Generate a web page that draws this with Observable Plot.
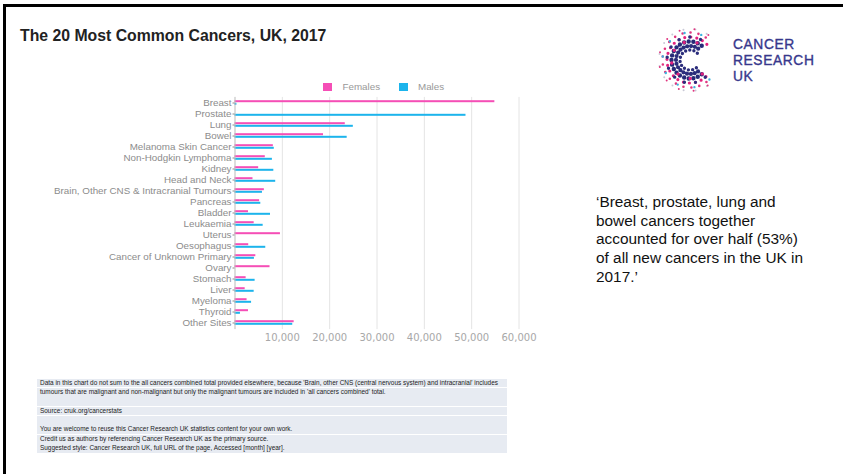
<!DOCTYPE html>
<html>
<head>
<meta charset="utf-8">
<script src="https://cdn.jsdelivr.net/npm/d3@7"></script>
<script src="https://cdn.jsdelivr.net/npm/@observablehq/plot@0.6"></script>
<style>
  html, body { margin: 0; padding: 0; background: #fff; }
  #page { position: relative; width: 843px; height: 474px; overflow: hidden; background: #fff; font-family: "Liberation Sans", Arial, sans-serif; }
  .abs { position: absolute; }
  #title { left: 20px; top: 27px; font-weight: bold; font-size: 15.8px; color: #222; white-space: nowrap; }
  #legend { left: 0; top: 81px; font-size: 9.8px; color: #999; }
  .sw { position: absolute; width: 9px; height: 8px; }
  .lt { position: absolute; white-space: nowrap; line-height: 10px; }
  #quote { left: 596px; top: 193px; width: 245px; font-size: 15.4px; line-height: 18.7px; color: #111; white-space: nowrap; }
  #foot { left: 37px; top: 378.5px; width: 470px; font-size: 6.45px; color: #222; }
  .row { height: 8.8px; line-height: 8.8px; margin-bottom: 0.6px; background: #e7ebf2; padding-left: 3px; white-space: nowrap; overflow: hidden; }
  #logoText { left: 733px; top: 37px; font-family: "Liberation Sans", Arial, sans-serif; font-size: 13.8px; line-height: 16px; color: #37378c; letter-spacing: 0.6px; -webkit-text-stroke: 0.35px #37378c; }
</style>
</head>
<body>
<div id="page">
  <div class="abs" style="left:3px;top:4px;width:840px;height:3px;background:#000"></div>
  <div class="abs" style="left:3px;top:4px;width:3px;height:470px;background:#000"></div>
  <div id="title" class="abs"></div>
  <div id="legend" class="abs"></div>
  <div id="chart" class="abs" style="left:0;top:90px"></div>
  <div id="quote" class="abs"></div>
  <div id="foot" class="abs"></div>
  <svg id="logo" class="abs" style="left:650px;top:25px" width="80" height="75"></svg>
  <div id="logoText" class="abs">CANCER<br>RESEARCH<br>UK</div>
</div>
<script>
const titleText = "The 20 Most Common Cancers, UK, 2017";
const categories = [
  "Breast", "Prostate", "Lung", "Bowel", "Melanoma Skin Cancer",
  "Non-Hodgkin Lymphoma", "Kidney", "Head and Neck",
  "Brain, Other CNS & Intracranial Tumours", "Pancreas", "Bladder",
  "Leukaemia", "Uterus", "Oesophagus", "Cancer of Unknown Primary",
  "Ovary", "Stomach", "Liver", "Myeloma", "Thyroid", "Other Sites"
];
const females = [54900, 0, 23300, 18700, 8100, 6400, 5000, 3800, 6200, 5200, 2850, 4050, 9600, 2900, 4400, 7400, 2350, 2150, 2550, 2850, 12500];
const males   = [400, 48800, 25000, 23700, 8300, 7900, 8200, 8600, 5800, 5450, 7500, 5950, 0, 6500, 4100, 0, 4250, 4050, 3500, 1150, 12200];
const seriesNames = ["Females", "Males"];
const seriesColors = ["#f54eb6", "#1cb4ec"];
const xTicks = [10000, 20000, 30000, 40000, 50000, 60000];
const quoteText = "‘Breast, prostate, lung and<br>bowel cancers together<br>accounted for over half (53%)<br>of all new cancers in the UK in<br>2017.’";
const footLines = [
  "Data in this chart do not sum to the all cancers combined total provided elsewhere, because 'Brain, other CNS (central nervous system) and intracranial' includes",
  "tumours that are malignant and non-malignant but only the malignant tumours are included in 'all cancers combined' total.",
  "",
  "Source: cruk.org/cancerstats",
  "",
  "You are welcome to reuse this Cancer Research UK statistics content for your own work.",
  "Credit us as authors by referencing Cancer Research UK as the primary source.",
  "Suggested style: Cancer Research UK, full URL of the page, Accessed [month] [year]."
];

document.getElementById("title").textContent = titleText;
document.getElementById("quote").innerHTML = quoteText;
document.getElementById("foot").innerHTML = footLines.map(t => `<div class="row">${t || "&nbsp;"}</div>`).join("");

// legend
const legend = document.getElementById("legend");
const legendPos = [[322.5, 342.5], [399, 418]];
seriesNames.forEach((n, i) => {
  legend.insertAdjacentHTML("beforeend",
    `<div class="sw" style="left:${legendPos[i][0]}px;top:1.5px;background:${seriesColors[i]}"></div>` +
    `<div class="lt" style="left:${legendPos[i][1]}px;top:1px">${n}</div>`);
});

const data = categories.flatMap((c, i) => [
  {cancer: c, sex: "Females", value: females[i]},
  {cancer: c, sex: "Males", value: males[i]}
]);

const chart = Plot.plot({
  width: 545,
  height: 260,
  marginLeft: 234.5,
  marginRight: 26.5,
  marginTop: 6.9,
  marginBottom: 20.9,
  style: {fontFamily: "'Liberation Sans', Arial, sans-serif", background: "transparent"},
  x: {domain: [0, 60000], axis: null, label: null},
  y: {domain: categories, padding: 0, axis: null, label: null},
  marks: [
    Plot.gridX(xTicks, {stroke: "#e4e4e4", strokeOpacity: 1}),
    Plot.barX(data.filter(d => d.sex === "Females"), {x: "value", y: "cancer", fill: seriesColors[0], insetTop: 3.2, insetBottom: 5.8}),
    Plot.barX(data.filter(d => d.sex === "Males"), {x: "value", y: "cancer", fill: seriesColors[1], insetTop: 5.8, insetBottom: 3.2}),
    Plot.ruleX([0], {stroke: "#bbb"}),
    Plot.axisY({tickSize: 2, tickPadding: 1.5, fontSize: 9.8, color: "#8c8c8c", label: null}),
    Plot.axisX({ticks: xTicks, tickSize: 0, tickPadding: 4.2, fontSize: 10, color: "#a8a8a8", tickFormat: d3.format(","), fontFamily: "'DejaVu Sans', sans-serif", label: null})
  ]
});
document.getElementById("chart").appendChild(chart);

// logo: dotted C drawn as dashed arcs
const logo = d3.select("#logo");
const cx = 40, cy = 35;
const rings = [
  {r: 10, color: "#2b2d7c", dash: "0 4.2", w: 3.4, off: 0},
  {r: 14, color: "#2b2d7c", dash: "0 3.8", w: 4.2, off: 1},
  {r: 18.5, color: "#262a78", dash: "0 4.6", w: 4.4, off: 2},
  {r: 18.5, color: "#e0207f", dash: "0 13", w: 3.4, off: 5},
  {r: 23, color: "#e3237f", dash: "0 6", w: 3.2, off: 0},
  {r: 23, color: "#2b2d7c", dash: "0 11", w: 3.4, off: 3},
  {r: 27.5, color: "#e0357f", dash: "0 8", w: 2.6, off: 2},
  {r: 27.5, color: "#3cb4e0", dash: "0 17", w: 2.4, off: 6},
  {r: 31, color: "#c9c9d6", dash: "0 12", w: 2, off: 4},
  {r: 31, color: "#e0357f", dash: "0 15", w: 2, off: 9}
];
rings.forEach(g => {
  const a0 = -Math.PI / 4.2, a1 = Math.PI / 4.2;
  const x0 = cx + g.r * Math.cos(a0), y0 = cy + g.r * Math.sin(a0);
  const x1 = cx + g.r * Math.cos(a1), y1 = cy + g.r * Math.sin(a1);
  logo.append("path")
    .attr("d", `M${x0},${y0}A${g.r},${g.r} 0 1 0 ${x1},${y1}`)
    .attr("fill", "none")
    .attr("stroke", g.color)
    .attr("stroke-width", g.w)
    .attr("stroke-linecap", "round")
    .attr("stroke-dasharray", g.dash)
    .attr("stroke-dashoffset", g.off);
});
</script>
</body>
</html>
